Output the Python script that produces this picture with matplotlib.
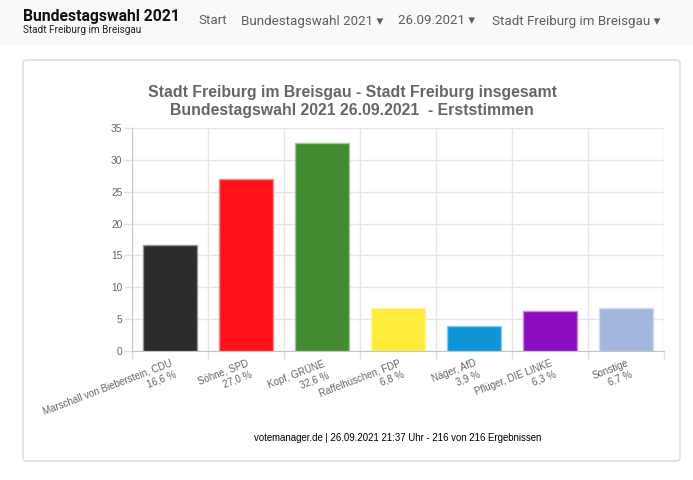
import numpy as np
import matplotlib.pyplot as plt
from matplotlib.patches import Rectangle, FancyBboxPatch
from matplotlib.colors import to_rgb

# data
candidates = ["Marschall von Bieberstein, CDU", "Söhne, SPD", "Kopf, GRÜNE",
              "Raffelhüschen, FDP", "Näger, AfD", "Pflüger, DIE LINKE", "Sonstige"]
shares = [16.6, 27.0, 32.6, 6.8, 3.9, 6.3, 6.7]
share_labels = ["16,6 %", "27,0 %", "32,6 %", "6,8 %", "3,9 %", "6,3 %", "6,7 %"]
colors = ["#2d2b29", "#ff1119", "#418c31", "#ffeb3b", "#0e95d8", "#8b0dbf", "#a3b6de"]
yticks = [0, 5, 10, 15, 20, 25, 30, 35]

W, H = 693, 480
fig = plt.figure(figsize=(W / 100, H / 100), dpi=100)

def fx(px):
    return px / W

def fy(py):
    return 1 - py / H

# navbar background
fig.patches.append(Rectangle((0, fy(45)), 1, 45 / H, transform=fig.transFigure,
                             facecolor="#f8f9fa", edgecolor="none", zorder=-2))
# card
fig.patches.append(FancyBboxPatch((fx(23), fy(461)), fx(680) - fx(23), fy(60) - fy(461),
                                  boxstyle="round,pad=0,rounding_size=0.006",
                                  transform=fig.transFigure, facecolor="white",
                                  edgecolor="#d9d9d9", linewidth=1, zorder=-2))

nav_font = ["Roboto", "DejaVu Sans"]
fig.text(fx(23), fy(17), "Bundestagswahl 2021", fontsize=11.3, fontweight="bold",
         family=nav_font, color="#111111", va="center", ha="left")
fig.text(fx(23), fy(30), "Stadt Freiburg im Breisgau", fontsize=7.2,
         family=nav_font, color="#222222", va="center", ha="left")
nav_items = [("Start", 198), ("Bundestagswahl 2021 ▾", 241),
             ("26.09.2021 ▾", 398), ("Stadt Freiburg im Breisgau ▾", 492)]
for txt, xp in nav_items:
    fig.text(fx(xp), fy(21), txt, fontsize=9.6, family=nav_font, color="#5f5f5f",
             va="center", ha="left")

chart_font = "Liberation Sans"

# title
fig.text(fx(352), fy(92), "Stadt Freiburg im Breisgau - Stadt Freiburg insgesamt",
         fontsize=11.4, fontweight="bold", family=chart_font, color="#666666",
         ha="center", va="center")
fig.text(fx(352), fy(110), "Bundestagswahl 2021 26.09.2021  - Erststimmen",
         fontsize=11.4, fontweight="bold", family=chart_font, color="#666666",
         ha="center", va="center")

# axes
ax = fig.add_axes([fx(132), fy(351), (664 - 132) / W, (351 - 128) / H], zorder=1)
ax.patch.set_alpha(0)
x = np.arange(len(candidates))
edges = [tuple(0.5 * c + 0.5 for c in to_rgb(col)) for col in colors]
ax.bar(x, shares, width=0.72, color=colors, edgecolor=edges, linewidth=1, zorder=3)

ax.set_xlim(-0.5, len(candidates) - 0.5)
ax.set_ylim(0, 35)
ax.set_yticks(yticks)
ax.set_xticks(np.arange(-0.5, len(candidates), 1))
ax.set_xticklabels([])
ax.set_xticks(x, [c + "\n" + s for c, s in zip(candidates, share_labels)], minor=True)

ax.grid(True, which="major", color="#e6e6e6", linewidth=1)
ax.set_axisbelow(True)
for side in ["top", "right"]:
    ax.spines[side].set_visible(False)
for side in ["left", "bottom"]:
    ax.spines[side].set_color("#c4c4c4")

ax.tick_params(axis="both", which="major", length=6, width=1, color="#e0e0e0",
               labelsize=7.3, labelcolor="#666666", pad=1)
ax.tick_params(axis="x", which="minor", length=0, pad=5, labelsize=7.0,
               labelcolor="#666666")
for lbl in ax.get_yticklabels():
    lbl.set_family(chart_font)
for lbl in ax.get_xticklabels(minor=True):
    lbl.set_family(chart_font)
    lbl.set_rotation(21)
    lbl.set_ha("right")
    lbl.set_va("top")
    lbl.set_rotation_mode("anchor")
    lbl.set_multialignment("right")
    lbl.set_linespacing(1.25)

# footer
fig.text(fx(398), fy(438), "votemanager.de | 26.09.2021 21:37 Uhr - 216 von 216 Ergebnissen",
         fontsize=6.9, family=chart_font, color="black", ha="center", va="center")

fig.savefig("out.png", dpi=100)
